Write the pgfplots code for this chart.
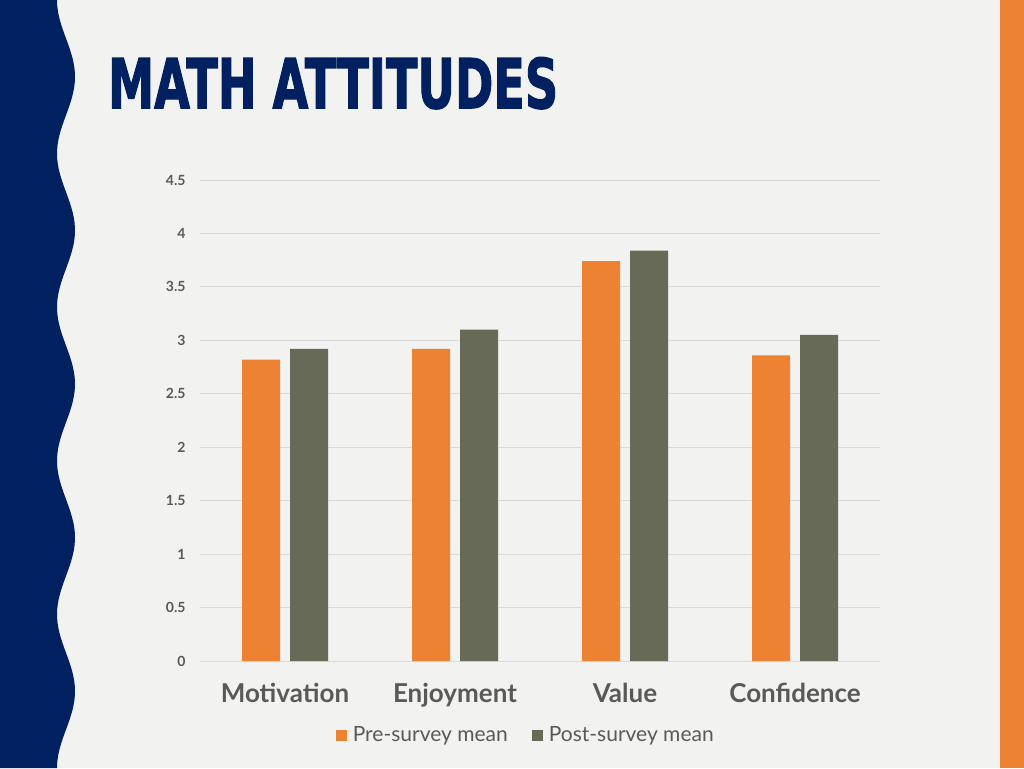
\documentclass[border=0pt]{standalone}
\usepackage{fontspec}
\usepackage{graphicx}
\usepackage{pgfplots}
\pgfplotsset{compat=1.18}
\setmainfont{Lato}
\newfontfamily\titlefont[RawFeature={embolden=2}]{DejaVu Sans}
\definecolor{slidebg}{HTML}{F2F2F0}
\definecolor{navy}{HTML}{002060}
\definecolor{preorange}{HTML}{EC8232}
\definecolor{postgray}{HTML}{676A57}
\definecolor{txtgray}{HTML}{595959}
\definecolor{gridgray}{HTML}{D9D9D9}
\begin{document}
\begin{tikzpicture}[x=1pt,y=1pt]
  % slide background
  \fill[slidebg] (0,0) rectangle (1024,768);
  \useasboundingbox (0,0) rectangle (1024,768);
  \fill[navy] (0,768) -- plot[domain=0:768,samples=160] ({66-9*cos(2.34375*\x)},{768-\x}) -- (0,0) -- cycle;
  \fill[preorange] (1000,0) rectangle (1024,768);
  % title
  \node[anchor=north west,inner sep=0pt,text=navy] at (108,711)
    {\resizebox{450pt}{51pt}{\titlefont\bfseries MATH ATTITUDES}};
  \begin{axis}[
    at={(200pt,107pt)}, anchor=south west,
    scale only axis, width=680pt, height=481pt,
    ybar=10pt, bar width=38pt,
    xmin=-0.5, xmax=3.5, ymin=0, ymax=4.5,
    enlargelimits=false,
    axis line style={draw=none},
    tick style={draw=none},
    ymajorgrids, grid style={color=gridgray, line width=0.8pt},
    ytick={0,0.5,1,1.5,2,2.5,3,3.5,4,4.5},
    yticklabels={0,0.5,1,1.5,2,2.5,3,3.5,4,4.5},
    yticklabel style={font=\bfseries\fontsize{14}{16}\selectfont, text=txtgray, xshift=-11pt},
    xtick={0,1,2,3},
    xticklabels={Motivation,Enjoyment,Value,Confidence},
    xticklabel style={font=\bfseries\fontsize{26}{28}\selectfont, text=txtgray, yshift=-14pt},
    legend style={at={(0.479,-0.154)}, anchor=center, draw=none, fill=none,
      font=\fontsize{21}{23}\selectfont, text=txtgray,
      legend columns=2,
      /tikz/every odd column/.append style={column sep=4pt},
      /tikz/every even column/.append style={column sep=22pt}},
    legend image code/.code={\fill[#1] (-5pt,-5.5pt) rectangle (6pt,5.5pt);},
  ]
    \addplot[fill=preorange, draw=none] coordinates {
      (0,2.82) (1,2.92) (2,3.74) (3,2.86)
    };
    \addlegendentry{Pre-survey mean}
    \addplot[fill=postgray, draw=none] coordinates {
      (0,2.92) (1,3.10) (2,3.84) (3,3.05)
    };
    \addlegendentry{Post-survey mean}
  \end{axis}
\end{tikzpicture}
\end{document}
